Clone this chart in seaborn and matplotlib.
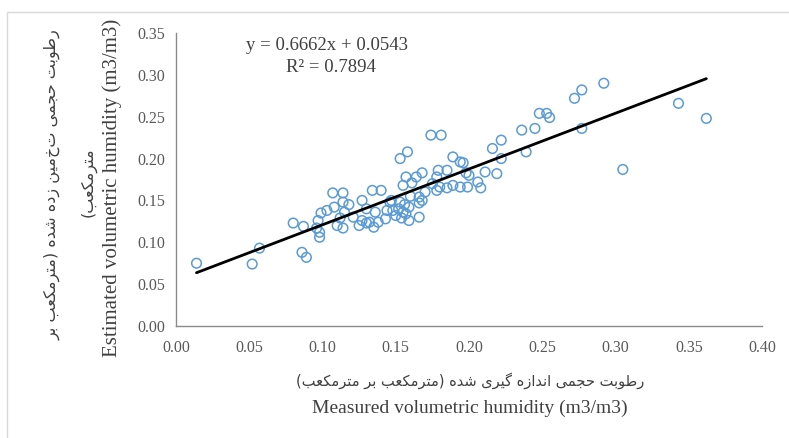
import matplotlib
matplotlib.use("Agg")
import matplotlib.pyplot as plt
import seaborn as sns
import numpy as np
from matplotlib.patches import Rectangle

# ---------------- data ----------------
measured = [0.014, 0.052, 0.057, 0.080, 0.087, 0.086, 0.089, 0.096, 0.097, 0.098,
            0.098, 0.099, 0.103, 0.107, 0.114, 0.108, 0.114, 0.115, 0.114, 0.112,
            0.121, 0.127, 0.134, 0.140, 0.127, 0.132, 0.138, 0.130, 0.136, 0.144,
            0.146, 0.153, 0.148, 0.155, 0.159, 0.166, 0.159, 0.166, 0.154, 0.157,
            0.153, 0.158, 0.157, 0.164, 0.168, 0.161, 0.166, 0.168, 0.174, 0.181,
            0.178, 0.179, 0.185, 0.178, 0.189, 0.194, 0.196, 0.198, 0.180, 0.185,
            0.189, 0.194, 0.199, 0.206, 0.208, 0.211, 0.219, 0.200, 0.216, 0.222,
            0.222, 0.236, 0.245, 0.239, 0.248, 0.253, 0.255, 0.272, 0.277, 0.277,
            0.292, 0.305, 0.343, 0.362, 0.125, 0.135, 0.143, 0.150, 0.152, 0.147,
            0.156, 0.160, 0.130, 0.118, 0.110, 0.155, 0.170, 0.175]
estimated = [0.075, 0.074, 0.093, 0.123, 0.119, 0.088, 0.082, 0.117, 0.126, 0.112,
             0.106, 0.135, 0.138, 0.159, 0.159, 0.142, 0.148, 0.136, 0.117, 0.129,
             0.130, 0.150, 0.162, 0.162, 0.126, 0.124, 0.124, 0.123, 0.136, 0.138,
             0.148, 0.148, 0.138, 0.136, 0.142, 0.147, 0.126, 0.130, 0.129, 0.134,
             0.200, 0.208, 0.178, 0.178, 0.183, 0.171, 0.154, 0.150, 0.228, 0.228,
             0.178, 0.186, 0.186, 0.162, 0.202, 0.196, 0.195, 0.183, 0.166, 0.165,
             0.168, 0.166, 0.166, 0.172, 0.165, 0.184, 0.182, 0.180, 0.212, 0.222,
             0.200, 0.234, 0.236, 0.208, 0.254, 0.254, 0.249, 0.272, 0.282, 0.236,
             0.290, 0.187, 0.266, 0.248, 0.120, 0.118, 0.128, 0.132, 0.140, 0.150,
             0.145, 0.155, 0.140, 0.145, 0.120, 0.168, 0.160, 0.170]
slope = 0.6662
intercept = 0.0543
r_squared = 0.7894
x_ticks = [0.00, 0.05, 0.10, 0.15, 0.20, 0.25, 0.30, 0.35, 0.40]
y_ticks = [0.00, 0.05, 0.10, 0.15, 0.20, 0.25, 0.30, 0.35]
x_label_en = "Measured volumetric humidity (m3/m3)"
y_label_en = "Estimated volumetric humidity (m3/m3)"
x_label_fa = "رطوبت حجمی اندازه گیری شده (مترمکعب بر مترمکعب)"
y_label_fa_1 = "رطوبت حجمی تخمین زده شده (مترمکعب بر"
y_label_fa_2 = "مترمکعب)"

# ---------------- minimal Persian shaping (matplotlib has no CTL) ----------------
FORMS = {
    'ا': ('\uFE8D', '\uFE8E', None, None),
    'ب': ('\uFE8F', '\uFE90', '\uFE91', '\uFE92'),
    'ت': ('\uFE95', '\uFE96', '\uFE97', '\uFE98'),
    'ج': ('\uFE9D', '\uFE9E', '\uFE9F', '\uFEA0'),
    'ح': ('\uFEA1', '\uFEA2', '\uFEA3', '\uFEA4'),
    'د': ('\uFEA9', '\uFEAA', None, None),
    'ر': ('\uFEAD', '\uFEAE', None, None),
    'ز': ('\uFEAF', '\uFEB0', None, None),
    'ش': ('\uFEB5', '\uFEB6', '\uFEB7', '\uFEB8'),
    'ط': ('\uFEC1', '\uFEC2', '\uFEC3', '\uFEC4'),
    'ع': ('\uFEC9', '\uFECA', '\uFECB', '\uFECC'),
    'م': ('\uFEE1', '\uFEE2', '\uFEE3', '\uFEE4'),
    'ن': ('\uFEE5', '\uFEE6', '\uFEE7', '\uFEE8'),
    'ه': ('\uFEE9', '\uFEEA', '\uFEEB', '\uFEEC'),
    'و': ('\uFEED', '\uFEEE', None, None),
    'ی': ('\uFBFC', '\uFBFD', '\uFBFE', '\uFBFF'),
    'ک': ('\uFB8E', '\uFB8F', '\uFB90', '\uFB91'),
    'گ': ('\uFB92', '\uFB93', '\uFB94', '\uFB95'),
}


def shape_fa(text):
    out = []
    n = len(text)
    for i, c in enumerate(text):
        if c not in FORMS:
            out.append(c)
            continue
        prev = text[i - 1] if i > 0 else None
        nxt = text[i + 1] if i + 1 < n else None
        iso, fin, ini, med = FORMS[c]
        jp = prev in FORMS and FORMS[prev][2] is not None
        jn = nxt in FORMS and ini is not None
        if jp and jn:
            out.append(med)
        elif jp:
            out.append(fin)
        elif jn:
            out.append(ini)
        else:
            out.append(iso)
    s = ''.join(out)[::-1]
    return s.translate(str.maketrans('()', ')('))


# ---------------- plot ----------------
sns.set_theme(style="white")
plt.rcParams['font.family'] = ['Liberation Serif', 'DejaVu Sans']

W, H = 789, 438
fig = plt.figure(figsize=(W / 100, H / 100), dpi=100)
ax = fig.add_axes([176 / W, 1 - 326 / H, (762 - 176) / W, (326 - 33) / H])

blue = '#5B9BD5'
sns.scatterplot(x=measured, y=estimated, ax=ax, marker='o', s=48,
                color=blue, facecolor='none', edgecolor=blue, linewidth=1.1,
                zorder=3)
ax.collections[0].set_facecolor('none')

xs = np.array([min(measured), max(measured)])
sns.lineplot(x=xs, y=slope * xs + intercept, ax=ax, color='black',
             linewidth=2.0, zorder=4)

ax.set_xlim(0, 0.40)
ax.set_ylim(0, 0.35)
ax.set_xticks(x_ticks)
ax.set_yticks(y_ticks)
ax.set_xticklabels([f"{v:.2f}" for v in x_ticks])
ax.set_yticklabels([f"{v:.2f}" for v in y_ticks])
ax.tick_params(axis='both', length=0, labelsize=11.5, colors='#595959')
ax.tick_params(axis='x', pad=10)
ax.tick_params(axis='y', pad=8)
for side in ['top', 'right']:
    ax.spines[side].set_visible(False)
for side in ['left', 'bottom']:
    ax.spines[side].set_color('#8a8a8a')
    ax.spines[side].set_linewidth(1.0)
ax.grid(False)

# equation
fig.text(327 / W, 1 - 45 / H, f"y = {slope}x + {intercept}", ha='center',
         va='center', fontsize=13.5, color='#404040')
fig.text(331 / W, 1 - 68 / H, f"R² = {r_squared}", ha='center',
         va='center', fontsize=13.5, color='#404040')

# axis titles
fig.text(470 / W, 1 - 381 / H, shape_fa(x_label_fa), ha='center', va='center',
         fontsize=10.5, color='#404040', family=['DejaVu Sans'])
fig.text(470 / W, 1 - 408 / H, x_label_en, ha='center', va='center',
         fontsize=14, color='#404040')
fig.text(112 / W, 1 - 188 / H, y_label_en, ha='center', va='center',
         rotation=90, fontsize=15, color='#404040')
fig.text(52 / W, 1 - 185 / H, shape_fa(y_label_fa_1), ha='center', va='center',
         rotation=90, fontsize=11.5, color='#404040', family=['DejaVu Sans'])
fig.text(88 / W, 1 - 182 / H, shape_fa(y_label_fa_2), ha='center', va='center',
         rotation=90, fontsize=11.5, color='#404040', family=['DejaVu Sans'])

# chart-area border
fig.add_artist(Rectangle((7 / W, -0.1), 1.2, 1 - 12 / H + 0.1,
                         transform=fig.transFigure, fill=False,
                         edgecolor='#d9d9d9', linewidth=1.0))

fig.savefig('out.png', dpi=100)
